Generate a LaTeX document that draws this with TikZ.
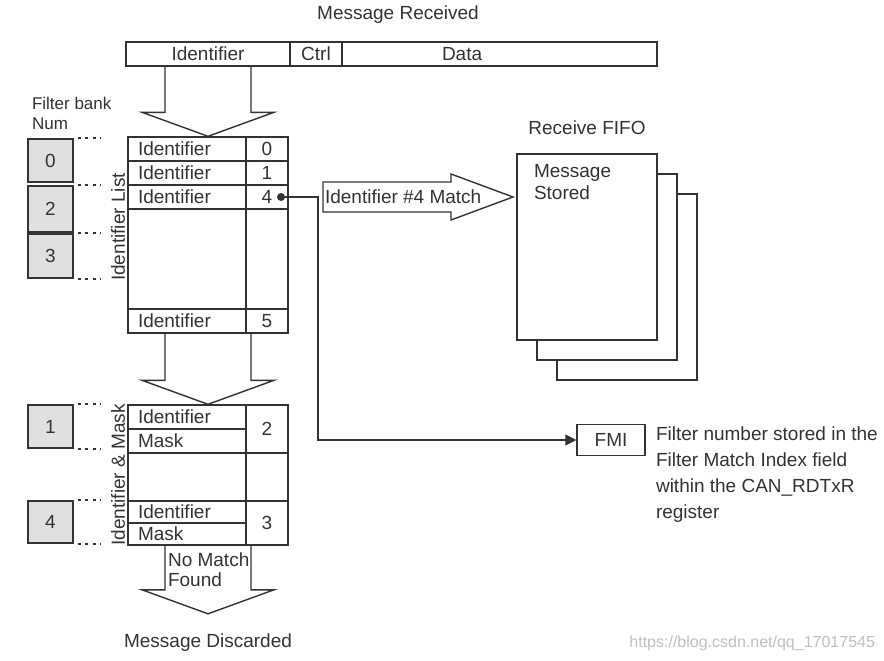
\documentclass[tikz,border=0pt]{standalone}
\usepackage{fontspec}
\setmainfont{Liberation Sans}
\usetikzlibrary{calc,arrows.meta}

\begin{document}
\begin{tikzpicture}[x=1pt, y=-1pt, line width=1.4pt, color=black!80]
\tikzstyle{every node} = [font=\fontsize{19}{22}\selectfont]
\tikzstyle{cell} = [draw, inner sep=0, minimum height=24pt]
\tikzstyle{idcell} = [cell, minimum width=118pt, text width=98pt, inner xsep=10pt, align=left]
\tikzstyle{numcell} = [cell, minimum width=42pt]
\tikzstyle{bank} = [draw, fill=black!12, minimum width=45pt, inner sep=0]
\tikzstyle{page} = [draw, fill=white, minimum width=140pt, minimum height=186pt]
\tikzstyle{dots} = [line width=1.8pt, dash pattern=on 3pt off 4.5pt]
\useasboundingbox (0,0) rectangle (884,661);

% message on the bus
\node (title) at (398,15) {Message Received};
\node[cell, minimum width=164pt] (idf) at (208,54) {Identifier};
\node[cell, minimum width=52pt] (ctrl) at (316,54) {Ctrl};
\node[cell, minimum width=315pt, text width=115pt, inner xsep=100pt, align=left] (data) at (499.5,54) {Data};

% filter banks
\node[anchor=west, align=left, font=\fontsize{17}{20}\selectfont] (fb) at (28,113) {Filter bank\\Num};
\node[bank, minimum height=43pt] (b0) at (50.5,160.5) {0};
\node[bank, minimum height=46pt] (b2) at (50.5,209) {2};
\node[bank, minimum height=44pt] (b3) at (50.5,256) {3};
\node[bank, minimum height=43pt] (b1) at (50.5,426.5) {1};
\node[bank, minimum height=42pt] (b4) at (50.5,522) {4};
\foreach \b/\a in {b0/north, b2/north, b3/north, b3/south, b1/north, b1/south, b4/north, b4/south}
\draw[dots] ($(\b.\a)+(27,0)$) -- +(23,0);

% identifier list
\node[draw, minimum width=160pt, minimum height=196pt] (list) at (208,235) {};
\node[rotate=90] (lbl1) at (118,227) {Identifier List};
\foreach \y/\n in {149/0, 173/1, 197/4, 321/5} {
\node[idcell] (i\n) at (187,\y) {Identifier};
\node[numcell] (n\n) at (267,\y) {\n};
}
\node[idcell, minimum height=100pt] (ig) at (187,259) {};
\node[numcell, minimum height=100pt] (ng) at (267,259) {};
\node[circle, fill, inner sep=0, minimum size=8pt] (dot) at (281,197) {};

% identifier & mask
\node[draw, minimum width=160pt, minimum height=140pt] (mask) at (208,475) {};
\node[rotate=90] (lbl2) at (118,475) {Identifier \& Mask};
\node[idcell] (mi2) at (187,417) {Identifier};
\node[idcell] (mm2) at (187,441) {Mask};
\node[numcell, minimum height=48pt] (m2) at (267,429) {2};
\node[idcell, minimum height=48pt] (mg) at (187,477) {};
\node[numcell, minimum height=48pt] (mgn) at (267,477) {};
\node[idcell, minimum height=22pt] (mi3) at (187,512) {Identifier};
\node[idcell, minimum height=22pt] (mm3) at (187,534) {Mask};
\node[numcell, minimum height=44pt] (m3) at (267,523) {3};

\node[anchor=west, align=left, font=\fontsize{19}{20}\selectfont] (nomatch) at (164,570) {No Match\\Found};
\node[inner sep=0] (nm) at (208,615) {};
\node (discard) at (208,643) {Message Discarded};

% receive fifo
\node (fifo) at (587,128) {Receive FIFO};
\node[page] (f3) at (627,287) {};
\node[page] (f2) at (607,267) {};
\node[page] (f1) at (587,247) {};
\node[anchor=north west, align=left] (stored) at (530,160) {Message\\Stored};

\node[anchor=west] (match) at (321,197) {Identifier \#4 Match};
\draw (323,182) -- (451,182) -- (451,174) -- (513,197) -- (451,220) -- (451,212) -- (323,212) -- cycle;

% filter match index
\node[cell, minimum width=68pt, minimum height=31pt] (fmi) at (611,440) {FMI};
\node[anchor=west, align=left, font=\fontsize{19}{26}\selectfont] (fmitxt) at (652,475) {Filter number stored in the\\Filter Match Index field\\within the CAN\_RDTxR\\register};
\node[anchor=east, text=black!25, font=\fontsize{16}{18}\selectfont] (wm) at (879,643) {https://blog.csdn.net/qq\_17017545};

\foreach \from/\to in {idf/list, list/mask, mask/nm}
\draw ($(\from.south)+(-43,0)$) -- ($(\to.north)+(-43,-24)$) -- ($(\to.north)+(-66,-24)$) -- (\to.north) -- ($(\to.north)+(66,-24)$) -- ($(\to.north)+(43,-24)$) -- ($(\from.south)+(43,0)$);
\draw[-{Triangle[length=11pt, width=11pt]}] (dot.center) -- ++(37,0) |- (fmi.west);
\end{tikzpicture}
\end{document}
